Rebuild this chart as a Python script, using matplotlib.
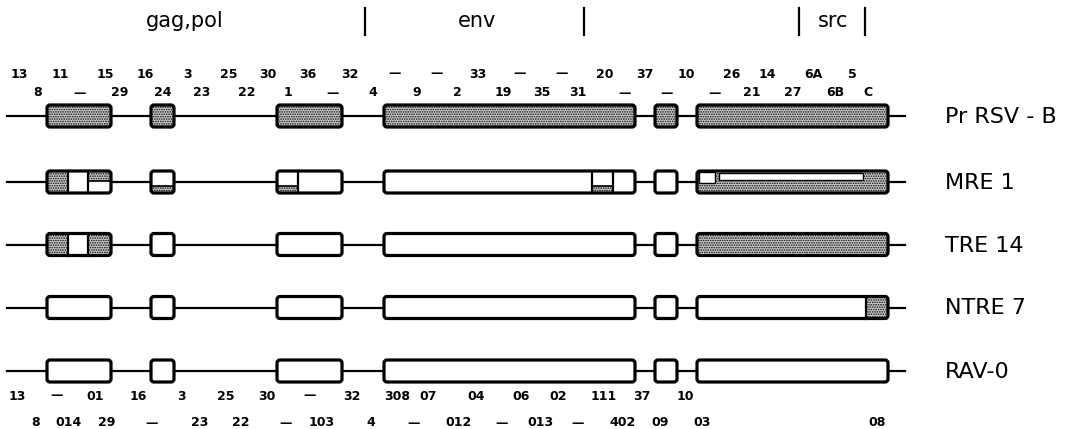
import matplotlib.pyplot as plt
from matplotlib.patches import FancyBboxPatch, Rectangle

plt.rcParams['hatch.linewidth'] = 0.8

# map coordinates (pixel units along the genome map)
strains = ['Pr RSV - B', 'MRE 1', 'TRE 14', 'NTRE 7', 'RAV-0']
row_y = [116, 182, 244.5, 307.5, 371]
map_start, map_end = 7, 905
seg_start = [47, 151, 277, 384, 655, 697]
seg_end = [111, 174, 342, 635, 677, 888]

# stippled parts per strain: (x0, x1, part) part = full / top / bottom
stipple = {
    'Pr RSV - B': [(seg_start[i], seg_end[i], 'full') for i in range(6)],
    'MRE 1': [(47, 68, 'full'), (88, 111, 'top'), (151, 174, 'bottom'),
              (277, 298, 'bottom'), (592, 613, 'bottom'), (697, 888, 'full')],
    'TRE 14': [(47, 68, 'full'), (88, 111, 'full'), (697, 888, 'full')],
    'NTRE 7': [(866, 888, 'full')],
    'RAV-0': [],
}
dividers = {
    'Pr RSV - B': [],
    'MRE 1': [68, 88, 298, 592, 613],
    'TRE 14': [68, 88],
    'NTRE 7': [866],
    'RAV-0': [],
}
# white windows inside MRE 1 src (x0, x1, top offset, bottom offset)
mre_windows = [(699, 715, -10, 1), (719, 863, -9, -2)]

D = '—'
top1_txt = ['13', '11', '15', '16', '3', '25', '30', '36', '32', D, D, '33', D, D,
            '20', '37', '10', '26', '14', '6A', '5']
top1_x = [19, 60, 105, 145, 187, 229, 268, 308, 350, 395, 437, 478, 520, 562,
          605, 645, 686, 732, 767, 813, 852]
top2_txt = ['8', D, '29', '24', '23', '22', '1', D, '4', '9', '2', '19', '35', '31',
            D, D, D, '21', '27', '6B', 'C']
top2_x = [38, 80, 120, 163, 202, 247, 288, 333, 373, 417, 457, 503, 542, 578,
          625, 667, 715, 752, 793, 835, 868]
bot1_txt = ['13', D, '01', '16', '3', '25', '30', D, '32', '308', '07', '04', '06',
            '02', '111', '37', '10']
bot1_x = [17, 57, 95, 138, 181, 226, 267, 310, 352, 397, 428, 476, 521,
          558, 604, 642, 685]
bot2_txt = ['8', '014', '29', D, '23', '22', D, '103', '4', D, '012', D, '013',
            D, '402', '09', '03', '08']
bot2_x = [36, 69, 107, 152, 200, 241, 286, 322, 371, 414, 459, 502, 540,
          578, 623, 660, 702, 877]

genes = ['gag,pol', 'env', 'src']
gene_x = [185, 477, 833]
gene_bounds = [365, 584, 799, 865]

STIP = dict(facecolor='#cfcfcf', edgecolor='black', hatch='.......', linewidth=0)
H = 11

fig = plt.figure(figsize=(10.71, 4.29), dpi=100)
ax = fig.add_axes([0, 0, 1, 1])
ax.set_xlim(0, 1071)
ax.set_ylim(429, 0)
ax.axis('off')

for name, y in zip(strains, row_y):
    ax.plot([map_start, map_end], [y, y], color='black', lw=1.6, zorder=1)
    for x0, x1 in zip(seg_start, seg_end):
        ax.add_patch(FancyBboxPatch((x0, y - H), x1 - x0, 2 * H,
                                    boxstyle='round,pad=0,rounding_size=3',
                                    facecolor='white', edgecolor='none', zorder=2))
    for x0, x1, part in stipple[name]:
        if part == 'full':
            y0, h = y - H, 2 * H
        elif part == 'top':
            y0, h = y - H, H * 0.9
        else:
            y0, h = y + H * 0.35, H * 0.65
        ax.add_patch(Rectangle((x0, y0), x1 - x0, h, zorder=3, **STIP))
        if part == 'top':
            ax.plot([x0, x1], [y0 + h, y0 + h], color='black', lw=1.2, zorder=4)
        elif part == 'bottom':
            ax.plot([x0, x1], [y0, y0], color='black', lw=1.2, zorder=4)
    for xd in dividers[name]:
        ax.plot([xd, xd], [y - H, y + H], color='black', lw=1.6, zorder=4)
    if name == 'MRE 1':
        for x0, x1, t, b in mre_windows:
            ax.add_patch(Rectangle((x0, y + t), x1 - x0, b - t, facecolor='white',
                                   edgecolor='black', linewidth=1.0, zorder=4))
    for x0, x1 in zip(seg_start, seg_end):
        ax.add_patch(FancyBboxPatch((x0, y - H), x1 - x0, 2 * H,
                                    boxstyle='round,pad=0,rounding_size=3',
                                    facecolor='none', edgecolor='black', lw=2.3, zorder=5))
    ax.text(945, y + 1, name, fontsize=16, va='center', ha='left')

num_font = dict(fontsize=9, fontweight='bold', ha='center', va='center')
for t, x in zip(top1_txt, top1_x):
    ax.text(x, 74, t, **num_font)
for t, x in zip(top2_txt, top2_x):
    ax.text(x, 93, t, **num_font)
for t, x in zip(bot1_txt, bot1_x):
    ax.text(x, 396, t, **num_font)
for t, x in zip(bot2_txt, bot2_x):
    ax.text(x, 423, t, **num_font)

for g, x in zip(genes, gene_x):
    ax.text(x, 21, g, fontsize=15, ha='center', va='center', fontweight='medium')
for xb in gene_bounds:
    ax.plot([xb, xb], [8, 35], color='black', lw=1.6)

fig.savefig('out.png', dpi=100)
